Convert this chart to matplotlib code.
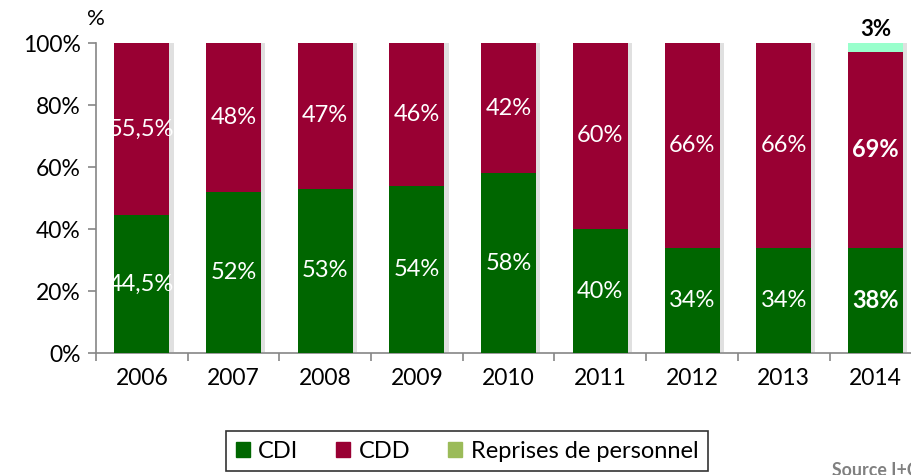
import matplotlib
matplotlib.use("Agg")
import matplotlib.pyplot as plt
import matplotlib.patheffects as pe
from matplotlib.patches import Patch
import numpy as np

plt.rcParams['font.family'] = ['Lato', 'DejaVu Sans']

# données
annees = ['2006', '2007', '2008', '2009', '2010', '2011', '2012', '2013', '2014']
cdi = [44.5, 52, 53, 54, 58, 40, 34, 34, 34]
cdd = [55.5, 48, 47, 46, 42, 60, 66, 66, 63]
reprises = [0, 0, 0, 0, 0, 0, 0, 0, 3]
labels_cdi = ['44,5%', '52%', '53%', '54%', '58%', '40%', '34%', '34%', '38%']
labels_cdd = ['55,5%', '48%', '47%', '46%', '42%', '60%', '66%', '66%', '69%']
labels_reprises = ['', '', '', '', '', '', '', '', '3%']
gras = [False] * 8 + [True]

c_cdi = '#006600'
c_cdd = '#990033'
c_rep = '#99FFCC'
c_rep_leg = '#9BBB59'

fig = plt.figure(figsize=(9.12, 4.75), dpi=100)
ax = fig.add_axes([96 / 912, 122 / 475, 9 * 91.7 / 912, 310 / 475])

x = np.arange(len(annees))
cdi = np.array(cdi)
cdd = np.array(cdd)
reprises = np.array(reprises)
ombre = [pe.SimplePatchShadow(offset=(3, 0), shadow_rgbFace='#999999', alpha=0.3), pe.Normal()]

b1 = ax.bar(x, cdi, width=0.6, color=c_cdi, zorder=3)
b2 = ax.bar(x, cdd, bottom=cdi, width=0.6, color=c_cdd, zorder=3)
b3 = ax.bar(x, reprises, bottom=cdi + cdd, width=0.6, color=c_rep, zorder=3)
for bars in (b1, b2, b3):
    for p in bars:
        p.set_path_effects(ombre)

for i in range(len(annees)):
    w = 'bold' if gras[i] else 'normal'
    ax.text(x[i], cdi[i] / 2, labels_cdi[i], ha='center', va='center', color='white',
            fontsize=17, fontweight=w, zorder=5)
    ax.text(x[i], cdi[i] + cdd[i] / 2, labels_cdd[i], ha='center', va='center', color='white',
            fontsize=17, fontweight=w, zorder=5)
    if labels_reprises[i]:
        ax.text(x[i], cdi[i] + cdd[i] + reprises[i] + 4.5, labels_reprises[i], ha='center',
                va='center', color='black', fontsize=16, fontweight='bold', clip_on=False)

ax.set_xlim(-0.5, len(annees) - 0.5)
ax.set_ylim(0, 100)
ax.set_yticks(range(0, 101, 20))
ax.set_yticklabels([f'{v}%' for v in range(0, 101, 20)], fontsize=16.5)
ax.set_xticks(x)
ax.set_xticklabels(annees, fontsize=16.5)
ax.tick_params(axis='x', which='major', length=0, pad=11)
ax.set_xticks(np.arange(-0.5, len(annees), 1), minor=True)
ax.tick_params(axis='x', which='minor', length=6, color='#868686', width=1.2)
ax.tick_params(axis='y', length=6, color='#868686', width=1.2, pad=5)
for s in ('top', 'right'):
    ax.spines[s].set_visible(False)
for s in ('left', 'bottom'):
    ax.spines[s].set_color('#868686')
    ax.spines[s].set_linewidth(1.2)

fig.text(96 / 912, 1 - 19 / 475, '%', ha='center', va='center', fontsize=16)

handles = [Patch(color=c_cdi, label='CDI'), Patch(color=c_cdd, label='CDD'),
           Patch(color=c_rep_leg, label='Reprises de personnel')]
leg = fig.legend(handles=handles, loc='center', bbox_to_anchor=(467 / 912, 1 - 451 / 475),
                 ncol=3, fontsize=17, frameon=True, fancybox=False, edgecolor='black',
                 handlelength=0.6, handleheight=0.6, handletextpad=0.35, columnspacing=1.6,
                 borderpad=0.4, borderaxespad=0)
leg.get_frame().set_linewidth(1.2)

fig.text(832 / 912, -4 / 475, 'Source I+C', ha='left', va='bottom', fontsize=12.8,
         color='#808080', fontweight='bold')

fig.savefig('out.png', dpi=100)
